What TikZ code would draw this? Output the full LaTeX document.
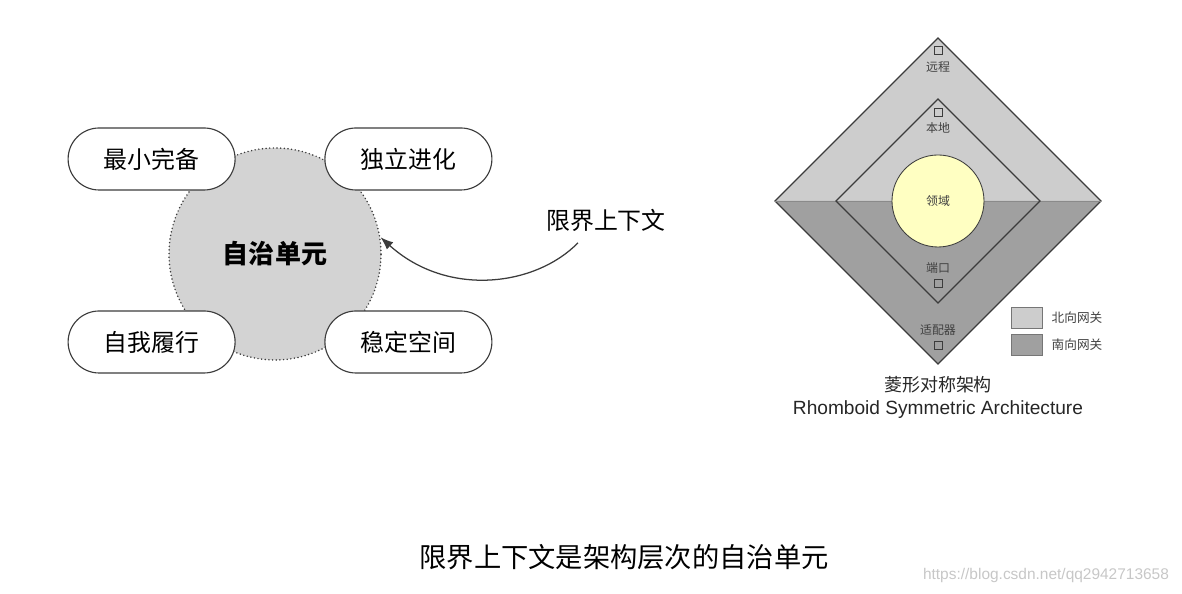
\documentclass[tikz,border=0pt]{standalone}
\usepackage{fontspec}
\setmainfont{Noto Sans CJK SC}
\newfontfamily\latinsans{Liberation Sans}
\usepackage{tikz}
\usetikzlibrary{
  arrows.meta,
  shapes,
  positioning,
  calc
}
\definecolor{unitGray}{HTML}{D3D3D3}
\definecolor{northGray}{HTML}{CDCDCD}
\definecolor{southGray}{HTML}{A0A0A0}
\definecolor{domainYellow}{HTML}{FFFFC2}
\definecolor{lineGray}{HTML}{3C3C3C}

\tikzset{
  pill/.style={draw=lineGray, line width=0.8pt, fill=white, rounded corners=0.775cm,
    minimum width=4.175cm, minimum height=1.55cm, font=\fontsize{17}{20}\selectfont},
  portbox/.style={draw=lineGray, line width=0.5pt, fill=none, minimum size=0.2cm, inner sep=0pt},
  tinylabel/.style={font=\fontsize{8.5}{10}\selectfont, text=black!75, inner sep=1pt},
  legendbox/.style={draw=lineGray!70, line width=0.5pt, minimum width=0.775cm, minimum height=0.525cm}
}

\begin{document}
\begin{tikzpicture}
  \useasboundingbox (0,0) rectangle (29.55,14.85);
  % Autonomous unit with its four traits
  \node[circle, draw=lineGray, line width=1.2pt, line cap=round, dash pattern=on 0pt off 2.6pt,
    fill=unitGray, minimum size=5.3cm,
    font=\bfseries\fontsize{18.5}{22}\selectfont] (unit) at (6.875,8.5) {自治单元};
  \node[pill] (minimal) at (3.79,10.875) {最小完备};
  \node[pill] (evolve)  at (10.21,10.875) {独立进化};
  \node[pill] (fulfil)  at (3.79,6.3) {自我履行};
  \node[pill] (stable)  at (10.21,6.3) {稳定空间};
  % Bounded context pointing at the unit
  \node[font=\fontsize{17}{20}\selectfont] (ctx) at (15.15,9.35) {限界上下文};
  \coordinate (ctxfoot) at (14.45,8.78);
  \draw[lineGray, line width=0.9pt, -{Latex[length=3.2mm, width=2.4mm]}]
    (ctxfoot) .. controls (13.4,7.7) and (11.2,7.4) .. (unit.9);

  % Rhomboid symmetric architecture
  \coordinate (rc) at (23.45,9.825);
  \fill[northGray] ($(rc)+(-4.075,0)$) -- ($(rc)+(0,4.075)$) -- ($(rc)+(4.075,0)$) -- cycle;
  \fill[southGray] ($(rc)+(-4.075,0)$) -- ($(rc)+(0,-4.075)$) -- ($(rc)+(4.075,0)$) -- cycle;
  \draw[lineGray, line width=0.8pt] ($(rc)+(-4.075,0)$) -- ($(rc)+(0,4.075)$) -- ($(rc)+(4.075,0)$)
    -- ($(rc)+(0,-4.075)$) -- cycle;
  \draw[lineGray!60, line width=0.3pt] ($(rc)+(-4.075,0)$) -- ($(rc)+(4.075,0)$);
  \draw[lineGray, line width=0.8pt] ($(rc)+(-2.55,0)$) -- ($(rc)+(0,2.55)$) -- ($(rc)+(2.55,0)$)
    -- ($(rc)+(0,-2.55)$) -- cycle;
  \node[circle, draw=lineGray, line width=0.6pt, fill=domainYellow, minimum size=2.3cm,
    font=\fontsize{8.5}{10}\selectfont, text=black!75] (domain) at (rc) {领域};
  % Port and adapter labels
  \node[portbox] (remotebox) at (23.45,13.6) {};
  \node[tinylabel] (remote) at (23.45,13.175) {远程};
  \node[portbox] (localbox) at (23.45,12.05) {};
  \node[tinylabel] (local) at (23.45,11.65) {本地};
  \node[tinylabel] (port) at (23.45,8.15) {端口};
  \node[portbox] (portbox) at (23.45,7.775) {};
  \node[tinylabel] (adapter) at (23.45,6.6) {适配器};
  \node[portbox] (adapterbox) at (23.45,6.225) {};
  % Legend
  \node[legendbox, fill=northGray] (northkey) at (25.675,6.9) {};
  \node[tinylabel, font=\fontsize{9}{10}\selectfont, anchor=west] (north) at (26.25,6.9) {北向网关};
  \node[legendbox, fill=southGray] (southkey) at (25.675,6.225) {};
  \node[tinylabel, font=\fontsize{9}{10}\selectfont, anchor=west] (south) at (26.25,6.225) {南向网关};
  % Captions
  \node[font=\fontsize{12.8}{15}\selectfont, text=black!85] (rhombzh) at (23.45,5.225) {菱形对称架构};
  \node[font=\latinsans\fontsize{13.6}{16}\selectfont, text=black!85] (rhomben) at (23.45,4.6)
    {Rhomboid Symmetric Architecture};
  \node[font=\fontsize{19.4}{23}\selectfont] (caption) at (15.6,0.925) {限界上下文是架构层次的自治单元};
  \node[font=\latinsans\fontsize{11}{12}\selectfont, text=black!22] (mark) at (26.15,0.45)
    {https://blog.csdn.net/qq2942713658};
\end{tikzpicture}
\end{document}
